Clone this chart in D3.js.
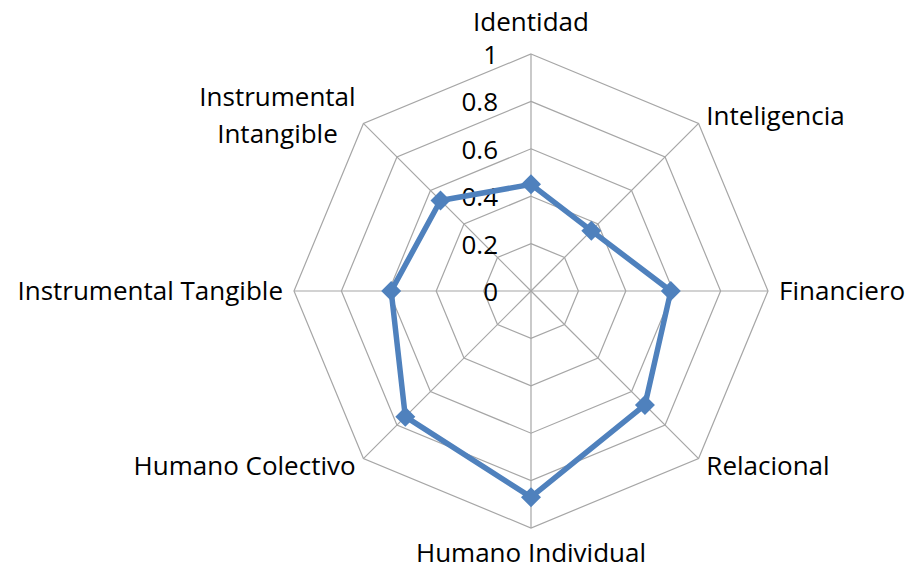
<!DOCTYPE html>
<html>
<head>
<meta charset="utf-8">
<script src="https://cdn.jsdelivr.net/npm/d3@7"></script>
<style>
  body { margin: 0; background: #fff; }
  svg { display: block; }
  text { font-family: "Open Sans", Lato, sans-serif; font-size: 26px; fill: #000; }
</style>
</head>
<body>
<svg id="chart" width="912" height="569"></svg>
<script>
// axis categories (clockwise from top) and values
const categories = ['Identidad', 'Inteligencia', 'Financiero', 'Relacional',
  'Humano Individual', 'Humano Colectivo', 'Instrumental Tangible', 'Instrumental Intangible'];
const labelLines = [['Identidad'], ['Inteligencia'], ['Financiero'], ['Relacional'],
  ['Humano Individual'], ['Humano Colectivo'], ['Instrumental Tangible'], ['Instrumental', 'Intangible']];
const values = [0.45, 0.36, 0.59, 0.68, 0.87, 0.75, 0.59, 0.54];
const ticks = [0, 0.2, 0.4, 0.6, 0.8, 1];
const tickLabels = ['0', '0.2', '0.4', '0.6', '0.8', '1'];

const cx = 531, cy = 291, R = 237;
const svg = d3.select('#chart');

const r = d3.scaleLinear().domain([0, 1]).range([0, R]);
const angle = d3.scalePoint().domain(d3.range(categories.length + 1)).range([0, 2 * Math.PI]);
const ang = i => angle(i % categories.length);

const g = svg.append('g').attr('transform', `translate(${cx},${cy})`);

// rings
const ringLine = d3.lineRadial().angle((d, i) => ang(i)).radius(d => r(d)).curve(d3.curveLinearClosed);
g.selectAll('.ring')
  .data(ticks.filter(t => t > 0))
  .enter()
  .append('path')
  .attr('d', t => ringLine(categories.map(() => t)))
  .attr('fill', 'none')
  .attr('stroke', '#a6a6a6')
  .attr('stroke-width', 1.2);

// spokes
g.selectAll('.spoke')
  .data(categories)
  .enter()
  .append('line')
  .attr('x1', 0).attr('y1', 0)
  .attr('x2', (d, i) => r(1) * Math.sin(ang(i)))
  .attr('y2', (d, i) => -r(1) * Math.cos(ang(i)))
  .attr('stroke', '#a6a6a6')
  .attr('stroke-width', 1.2);

// tick labels along the first axis
g.selectAll('.tick')
  .data(ticks)
  .enter()
  .append('text')
  .attr('x', -33)
  .attr('y', t => -r(t) + 10)
  .attr('text-anchor', 'end')
  .text((t, i) => tickLabels[i]);

// series line
const seriesLine = d3.lineRadial().angle((d, i) => ang(i)).radius(d => r(d)).curve(d3.curveLinearClosed);
g.append('path')
  .attr('d', seriesLine(values))
  .attr('fill', 'none')
  .attr('stroke', '#4f81bd')
  .attr('stroke-width', 5.5)
  .attr('stroke-linejoin', 'round');

// diamond markers
g.selectAll('.marker')
  .data(values)
  .enter()
  .append('path')
  .attr('d', 'M0,-10L10,0L0,10L-10,0Z')
  .attr('transform', (d, i) => `translate(${r(d) * Math.sin(ang(i))},${-r(d) * Math.cos(ang(i))})`)
  .attr('fill', '#4f81bd');

// category labels
const pad = 11;
labelLines.forEach((lines, i) => {
  const a = ang(i);
  const s = Math.sin(a), c = Math.cos(a);
  const x = (R + pad) * s;
  const y = -(R + pad) * c;
  const anchor = s > 0.1 ? 'start' : (s < -0.1 ? 'end' : 'middle');
  const lh = 37;
  const t = g.append('text').attr('text-anchor', 'middle');
  lines.forEach((ln, k) => t.append('tspan').text(ln));
  const widths = [];
  t.selectAll('tspan').each(function () { widths.push(this.getComputedTextLength()); });
  const maxW = d3.max(widths);
  let xc = x;
  if (anchor === 'start') xc = x + maxW / 2;
  if (anchor === 'end') xc = x - maxW / 2;
  // vertical: baseline of first line
  let base;
  if (c > 0.9) base = y - 12 - (lines.length - 1) * lh;
  else if (c < -0.9) base = y + 23;
  else base = y + 9 - (lines.length - 1) * lh / 2;
  t.selectAll('tspan')
    .attr('x', xc)
    .attr('y', (d, k) => base + k * lh);
});
</script>
</body>
</html>
